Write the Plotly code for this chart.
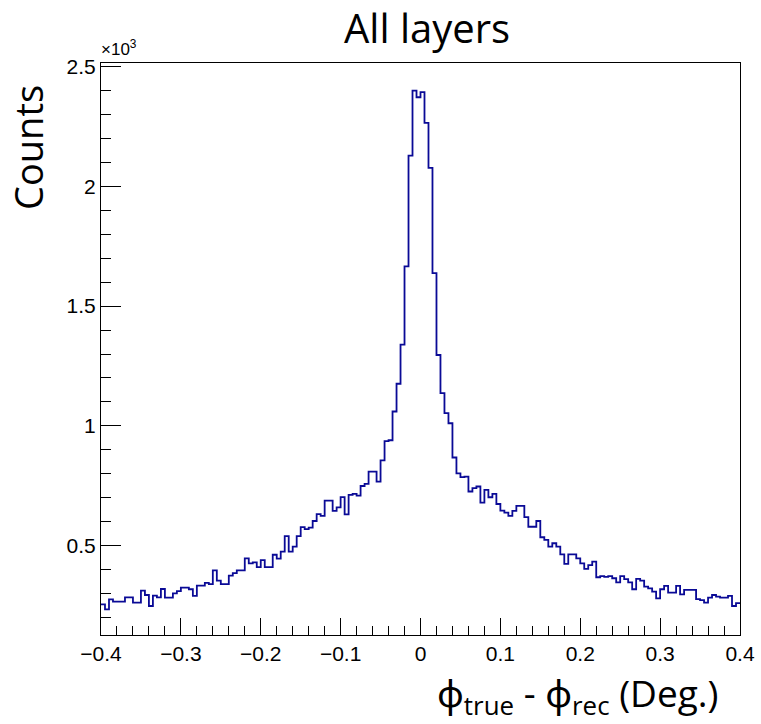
import numpy as np
import plotly.graph_objects as go

# Histogram: 160 bins of width 0.005 from -0.4 to 0.4 (counts)
x_min = -0.4
bin_width = 0.005
counts = [
    255, 234, 276, 266, 266, 266, 284, 284, 262, 262,
    312, 294, 248, 291, 284, 319, 283, 283, 301, 310,
    325, 325, 318, 290, 333, 333, 345, 339, 397, 354,
    339, 339, 375, 385, 397, 397, 447, 426, 430, 410,
    440, 410, 410, 462, 446, 475, 540, 475, 496, 540,
    577, 569, 575, 603, 632, 624, 688, 688, 645, 660,
    703, 631, 712, 716, 709, 749, 758, 809, 809, 767,
    856, 936, 940, 1060, 1176, 1339, 1666, 2128, 2400, 2372,
    2393, 2265, 2077, 1638, 1296, 1137, 1053, 1011, 868, 802,
    786, 788, 726, 740, 747, 680, 733, 702, 716, 674,
    646, 638, 624, 645, 666, 666, 619, 579, 579, 603,
    535, 524, 496, 510, 496, 464, 424, 464, 464, 447,
    426, 403, 419, 433, 368, 373, 370, 373, 364, 347,
    373, 360, 347, 318, 361, 354, 329, 322, 308, 280,
    318, 332, 304, 304, 332, 297, 315, 315, 315, 277,
    273, 262, 283, 294, 287, 283, 283, 290, 248, 260,
]
y_tick_vals = [500, 1000, 1500, 2000, 2500]
y_tick_text = ["0.5", "1", "1.5", "2", "2.5"]
x_tick_vals = [-0.4, -0.3, -0.2, -0.1, 0, 0.1, 0.2, 0.3, 0.4]
x_tick_text = ["\u22120.4", "\u22120.3", "\u22120.2", "\u22120.1", "0", "0.1", "0.2", "0.3", "0.4"]

edges = x_min + bin_width * np.arange(len(counts) + 1)
y_step = list(counts) + [counts[-1]]

fig = go.Figure()
fig.add_trace(go.Scatter(
    x=edges, y=y_step, mode="lines",
    line=dict(shape="hv", color="#0a0a96", width=1.8),
    showlegend=False, hoverinfo="skip",
))

tick_font = dict(family="Liberation Sans, Arial, sans-serif", size=21, color="black")
title_font = "Open Sans, Noto Sans, sans-serif"

fig.update_layout(
    width=761, height=724,
    margin=dict(l=101, r=21, t=63, b=89, autoexpand=False),
    paper_bgcolor="white", plot_bgcolor="white",
    showlegend=False,
    xaxis=dict(
        range=[-0.4, 0.4], showgrid=False, zeroline=False,
        showline=True, linecolor="black", linewidth=1, mirror=True,
        ticks="inside", ticklen=17, tickwidth=1, tickcolor="black",
        tickvals=x_tick_vals, ticktext=x_tick_text, tickfont=tick_font,
        minor=dict(ticks="inside", ticklen=9, tickwidth=1, tickcolor="black", dtick=0.02, tick0=-0.4),
    ),
    yaxis=dict(
        range=[127, 2515], showgrid=False, zeroline=False,
        showline=True, linecolor="black", linewidth=1, mirror=True,
        ticks="inside", ticklen=20, tickwidth=1, tickcolor="black",
        tickvals=y_tick_vals, ticktext=y_tick_text, tickfont=tick_font,
        minor=dict(ticks="inside", ticklen=10, tickwidth=1, tickcolor="black", dtick=100, tick0=0),
    ),
)

fig.add_annotation(
    text="All layers", xref="paper", yref="paper", x=0.51, y=1.0,
    yshift=36, xanchor="center", yanchor="middle", showarrow=False,
    font=dict(family=title_font, size=40, color="black"),
)
fig.add_annotation(
    text="Counts", xref="paper", yref="paper", x=0, y=1.0,
    xshift=-73, yshift=-85, textangle=-90, xanchor="center", yanchor="middle",
    showarrow=False, font=dict(family=title_font, size=38, color="black"),
)
fig.add_annotation(
    text="\u03d5<sub>true</sub> - \u03d5<sub>rec</sub> (Deg.)", xref="paper", yref="paper",
    x=1.0, y=0, xshift=-20, yshift=-60, xanchor="right", yanchor="middle",
    showarrow=False, font=dict(family=title_font, size=37, color="black"),
)
fig.add_annotation(
    text="\u00d710<sup>3</sup>", xref="paper", yref="paper", x=0, y=1.0,
    xshift=-2, yshift=15, xanchor="left", yanchor="middle",
    showarrow=False, font=dict(family=tick_font["family"], size=17, color="black"),
)

fig.write_html("out.html")
